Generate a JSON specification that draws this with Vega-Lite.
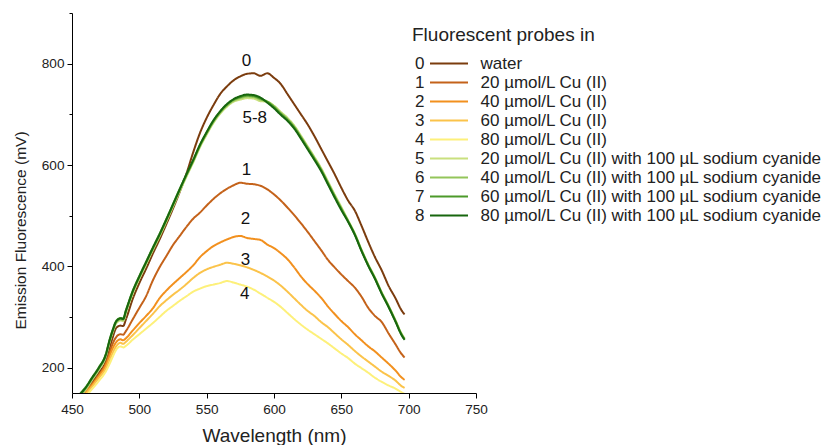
{
  "$schema": "https://vega.github.io/schema/vega-lite/v6.json",
  "width": 404,
  "height": 380,
  "autosize": {"type": "none"},
  "padding": {"left": 72, "top": 13, "right": 352, "bottom": 52},
  "background": "white",
  "config": {
    "view": {"stroke": null},
    "font": "Liberation Sans",
    "axis": {"grid": false, "domainColor": "#000", "tickColor": "#000", "labelColor": "#222", "titleColor": "#222", "labelFont": "Liberation Sans", "titleFont": "Liberation Sans", "labelFontSize": 13.6, "titleFontSize": 19, "titleFontWeight": "normal", "labelOverlap": false, "labelFlush": false},
    "legend": {"labelFont": "Liberation Sans", "titleFont": "Liberation Sans", "labelColor": "#222", "titleColor": "#222", "padding": 0, "labelLimit": 600, "titleLimit": 600}
  },
  "layer": [
    {
      "data": {"values": [
        {"w":455,"0":138,"1":132,"2":128,"3":125,"4":120,"5":141,"6":143,"7":146,"8":145},
        {"w":460,"0":155,"1":152,"2":150,"3":147,"4":142,"5":156,"6":158,"7":161,"8":160},
        {"w":465,"0":172,"1":168,"2":166,"3":163,"4":158,"5":176,"6":178,"7":181,"8":180},
        {"w":470,"0":190,"1":186,"2":184,"3":180,"4":174,"5":196,"6":198,"7":201,"8":200},
        {"w":475,"0":212,"1":208,"2":204,"3":198,"4":192,"5":221,"6":223,"7":226,"8":225},
        {"w":478,"0":240,"1":230,"2":224,"3":216,"4":208,"5":251,"6":253,"7":256,"8":255},
        {"w":480,"0":258,"1":246,"2":237,"3":228,"4":220,"5":268,"6":270,"7":273,"8":272},
        {"w":483,"0":279,"1":261,"2":251,"3":243,"4":236,"5":288,"6":290,"7":293,"8":292},
        {"w":486,"0":283,"1":266,"2":256,"3":249,"4":242,"5":293,"6":295,"7":298,"8":297},
        {"w":488,"0":282,"1":265,"2":254,"3":247,"4":240,"5":292,"6":294,"7":297,"8":296},
        {"w":490,"0":295,"1":272,"2":258,"3":251,"4":243,"5":308,"6":310,"7":313,"8":312},
        {"w":495,"0":335,"1":295,"2":273,"3":264,"4":255,"5":346,"6":348,"7":351,"8":350},
        {"w":500,"0":367,"1":318,"2":288,"3":278,"4":266,"5":376,"6":378,"7":381,"8":380},
        {"w":505,"0":395,"1":341,"2":302,"3":292,"4":277,"5":404,"6":406,"7":409,"8":408},
        {"w":510,"0":425,"1":372,"2":317,"3":306,"4":288,"5":432,"6":434,"7":437,"8":436},
        {"w":515,"0":453,"1":398,"2":337,"3":321,"4":300,"5":459,"6":461,"7":464,"8":463},
        {"w":520,"0":483,"1":420,"2":352,"3":333,"4":312,"5":488,"6":490,"7":493,"8":492},
        {"w":525,"0":514,"1":442,"2":365,"3":344,"4":322,"5":518,"6":520,"7":523,"8":522},
        {"w":530,"0":547,"1":460,"2":377,"3":354,"4":332,"5":548,"6":550,"7":553,"8":552},
        {"w":535,"0":583,"1":478,"2":389,"3":365,"4":341,"5":577,"6":579,"7":581,"8":582},
        {"w":540,"0":625,"1":494,"2":402,"3":377,"4":350,"5":605,"6":607,"7":609,"8":610},
        {"w":545,"0":663,"1":506,"2":418,"3":387,"4":356,"5":635,"6":637,"7":639,"8":640},
        {"w":550,"0":693,"1":520,"2":430,"3":394,"4":361,"5":660,"6":662,"7":664,"8":665},
        {"w":555,"0":718,"1":533,"2":440,"3":399,"4":364,"5":683,"6":685,"7":687,"8":688},
        {"w":560,"0":740,"1":544,"2":447,"3":403,"4":367,"5":701,"6":703,"7":705,"8":706},
        {"w":565,"0":755,"1":553,"2":453,"3":407,"4":371,"5":715,"6":717,"7":719,"8":720},
        {"w":570,"0":767,"1":560,"2":458,"3":405,"4":368,"5":725,"6":727,"7":729,"8":730},
        {"w":575,"0":775,"1":565,"2":460,"3":402,"4":364,"5":729,"6":732,"7":734,"8":736},
        {"w":580,"0":780,"1":563,"2":456,"3":398,"4":360,"5":732,"6":735,"7":737,"8":739},
        {"w":585,"0":781,"1":562,"2":454,"3":393,"4":354,"5":731,"6":734,"7":736,"8":738},
        {"w":590,"0":776,"1":559,"2":452,"3":387,"4":346,"5":726,"6":729,"7":731,"8":733},
        {"w":595,"0":781,"1":552,"2":443,"3":380,"4":338,"5":725,"6":725,"7":725,"8":723},
        {"w":600,"0":772,"1":542,"2":436,"3":372,"4":330,"5":717,"6":716,"7":714,"8":712},
        {"w":605,"0":760,"1":530,"2":426,"3":362,"4":320,"5":705,"6":703,"7":701,"8":699},
        {"w":610,"0":740,"1":516,"2":414,"3":350,"4":308,"5":693,"6":691,"7":689,"8":687},
        {"w":615,"0":720,"1":501,"2":398,"3":337,"4":296,"5":678,"6":676,"7":674,"8":672},
        {"w":620,"0":700,"1":485,"2":380,"3":324,"4":285,"5":658,"6":656,"7":654,"8":652},
        {"w":625,"0":680,"1":468,"2":365,"3":312,"4":275,"5":637,"6":635,"7":633,"8":631},
        {"w":630,"0":657,"1":450,"2":352,"3":302,"4":266,"5":616,"6":614,"7":612,"8":610},
        {"w":635,"0":632,"1":432,"2":338,"3":290,"4":257,"5":594,"6":592,"7":590,"8":588},
        {"w":640,"0":607,"1":413,"2":321,"3":280,"4":248,"5":568,"6":566,"7":564,"8":562},
        {"w":645,"0":582,"1":398,"2":306,"3":268,"4":238,"5":542,"6":540,"7":538,"8":536},
        {"w":650,"0":555,"1":384,"2":292,"3":256,"4":228,"5":517,"6":515,"7":513,"8":511},
        {"w":655,"0":530,"1":371,"2":280,"3":245,"4":219,"5":491,"6":490,"7":489,"8":488},
        {"w":660,"0":510,"1":358,"2":266,"3":233,"4":208,"5":465,"6":464,"7":463,"8":462},
        {"w":665,"0":480,"1":340,"2":254,"3":222,"4":199,"5":433,"6":432,"7":431,"8":430},
        {"w":670,"0":448,"1":318,"2":242,"3":212,"4":190,"5":404,"6":403,"7":402,"8":401},
        {"w":675,"0":418,"1":302,"2":232,"3":202,"4":180,"5":378,"6":377,"7":376,"8":375},
        {"w":680,"0":392,"1":290,"2":220,"3":192,"4":172,"5":349,"6":348,"7":347,"8":346},
        {"w":685,"0":362,"1":268,"2":208,"3":184,"4":165,"5":323,"6":322,"7":321,"8":320},
        {"w":690,"0":338,"1":247,"2":195,"3":175,"4":159,"5":295,"6":294,"7":293,"8":292},
        {"w":695,"0":312,"1":226,"2":180,"3":163,"4":151,"5":266,"6":265,"7":264,"8":263},
        {"w":697,"0":305,"1":220,"2":176,"3":160,"4":148,"5":258,"6":257,"7":256,"8":255}
      ]},
      "transform": [{"fold": ["0","1","2","3","4","5","6","7","8"], "as": ["k","v"]}],
      "mark": {"type": "line", "strokeWidth": 2, "clip": true, "interpolate": "monotone"},
      "encoding": {
        "x": {"field": "w", "type": "quantitative", "scale": {"domain": [450, 750], "nice": false, "zero": false},
          "axis": {"title": "Wavelength (nm)", "values": [450,475,500,525,550,575,600,625,650,675,700,725,750],
            "labelExpr": "datum.value % 50 === 0 ? datum.label : ''",
            "tickSize": {"condition": {"test": "datum.value % 50 === 0", "value": 5}, "value": 3},
            "labelPadding": 4, "titlePadding": 11}},
        "y": {"field": "v", "type": "quantitative", "scale": {"domain": [150, 900], "nice": false, "zero": false},
          "axis": {"title": "Emission Fluorescence (mV)", "values": [200,300,400,500,600,700,800,900],
            "labelExpr": "datum.value % 200 === 0 ? datum.label : ''",
            "tickSize": {"condition": {"test": "datum.value % 200 === 0", "value": 5}, "value": 3},
            "labelPadding": 3, "titleFontSize": 15.5, "titlePadding": 13, "titleY": 217}},
        "color": {"field": "k", "type": "nominal",
          "scale": {"domain": ["0","1","2","3","4","5","6","7","8"],
            "range": ["#7B3C0E","#C4621A","#F2901E","#FBC34A","#FDF07A","#C9E07E","#93C55A","#4C9A2A","#17660E"]},
          "legend": {"title": null, "orient": "none", "legendX": 358, "legendY": 40, "symbolType": "M-2,0H2", "symbolSize": 361, "symbolOffset": 8.5, "symbolStrokeWidth": 2, "labelOffset": 21, "labelFontSize": 17, "rowPadding": 0,
            "labelExpr": "['water','20 µmol/L Cu (II)','40 µmol/L Cu (II)','60 µmol/L Cu (II)','80 µmol/L Cu (II)','20 µmol/L Cu (II) with 100 µL sodium cyanide','40 µmol/L Cu (II) with 100 µL sodium cyanide','60 µmol/L Cu (II) with 100 µL sodium cyanide','80 µmol/L Cu (II) with 100 µL sodium cyanide'][toNumber(datum.value)]"}},
        "strokeDash": {"field": "k", "type": "nominal",
          "scale": {"range": [[1,0],[1,0],[1,0],[1,0],[1,0],[1,0],[1,0],[1,0],[1,0]]},
          "legend": {"title": "Fluorescent probes in", "orient": "none", "legendX": 340, "legendY": 13, "symbolType": "circle", "symbolSize": 16, "symbolOpacity": 0, "symbolFillColor": "transparent", "symbolStrokeColor": "transparent", "symbolStrokeWidth": 0, "clipHeight": 17, "labelOffset": -14, "labelFontSize": 17, "rowPadding": 1, "titleFontSize": 19, "titleFontWeight": "normal", "titlePadding": 10}}
      }
    },
    {
      "data": {"values": [
        {"t": "0", "w": 579.6, "v": 806},
        {"t": "5-8", "w": 585.7, "v": 693},
        {"t": "1", "w": 579.6, "v": 591},
        {"t": "2", "w": 578.8, "v": 494},
        {"t": "3", "w": 578.8, "v": 413},
        {"t": "4", "w": 578.3, "v": 346}
      ]},
      "mark": {"type": "text", "fontSize": 17, "font": "Liberation Sans", "color": "#111", "align": "center", "baseline": "middle"},
      "encoding": {
        "x": {"field": "w", "type": "quantitative"},
        "y": {"field": "v", "type": "quantitative"},
        "text": {"field": "t"}
      }
    }
  ]
}
